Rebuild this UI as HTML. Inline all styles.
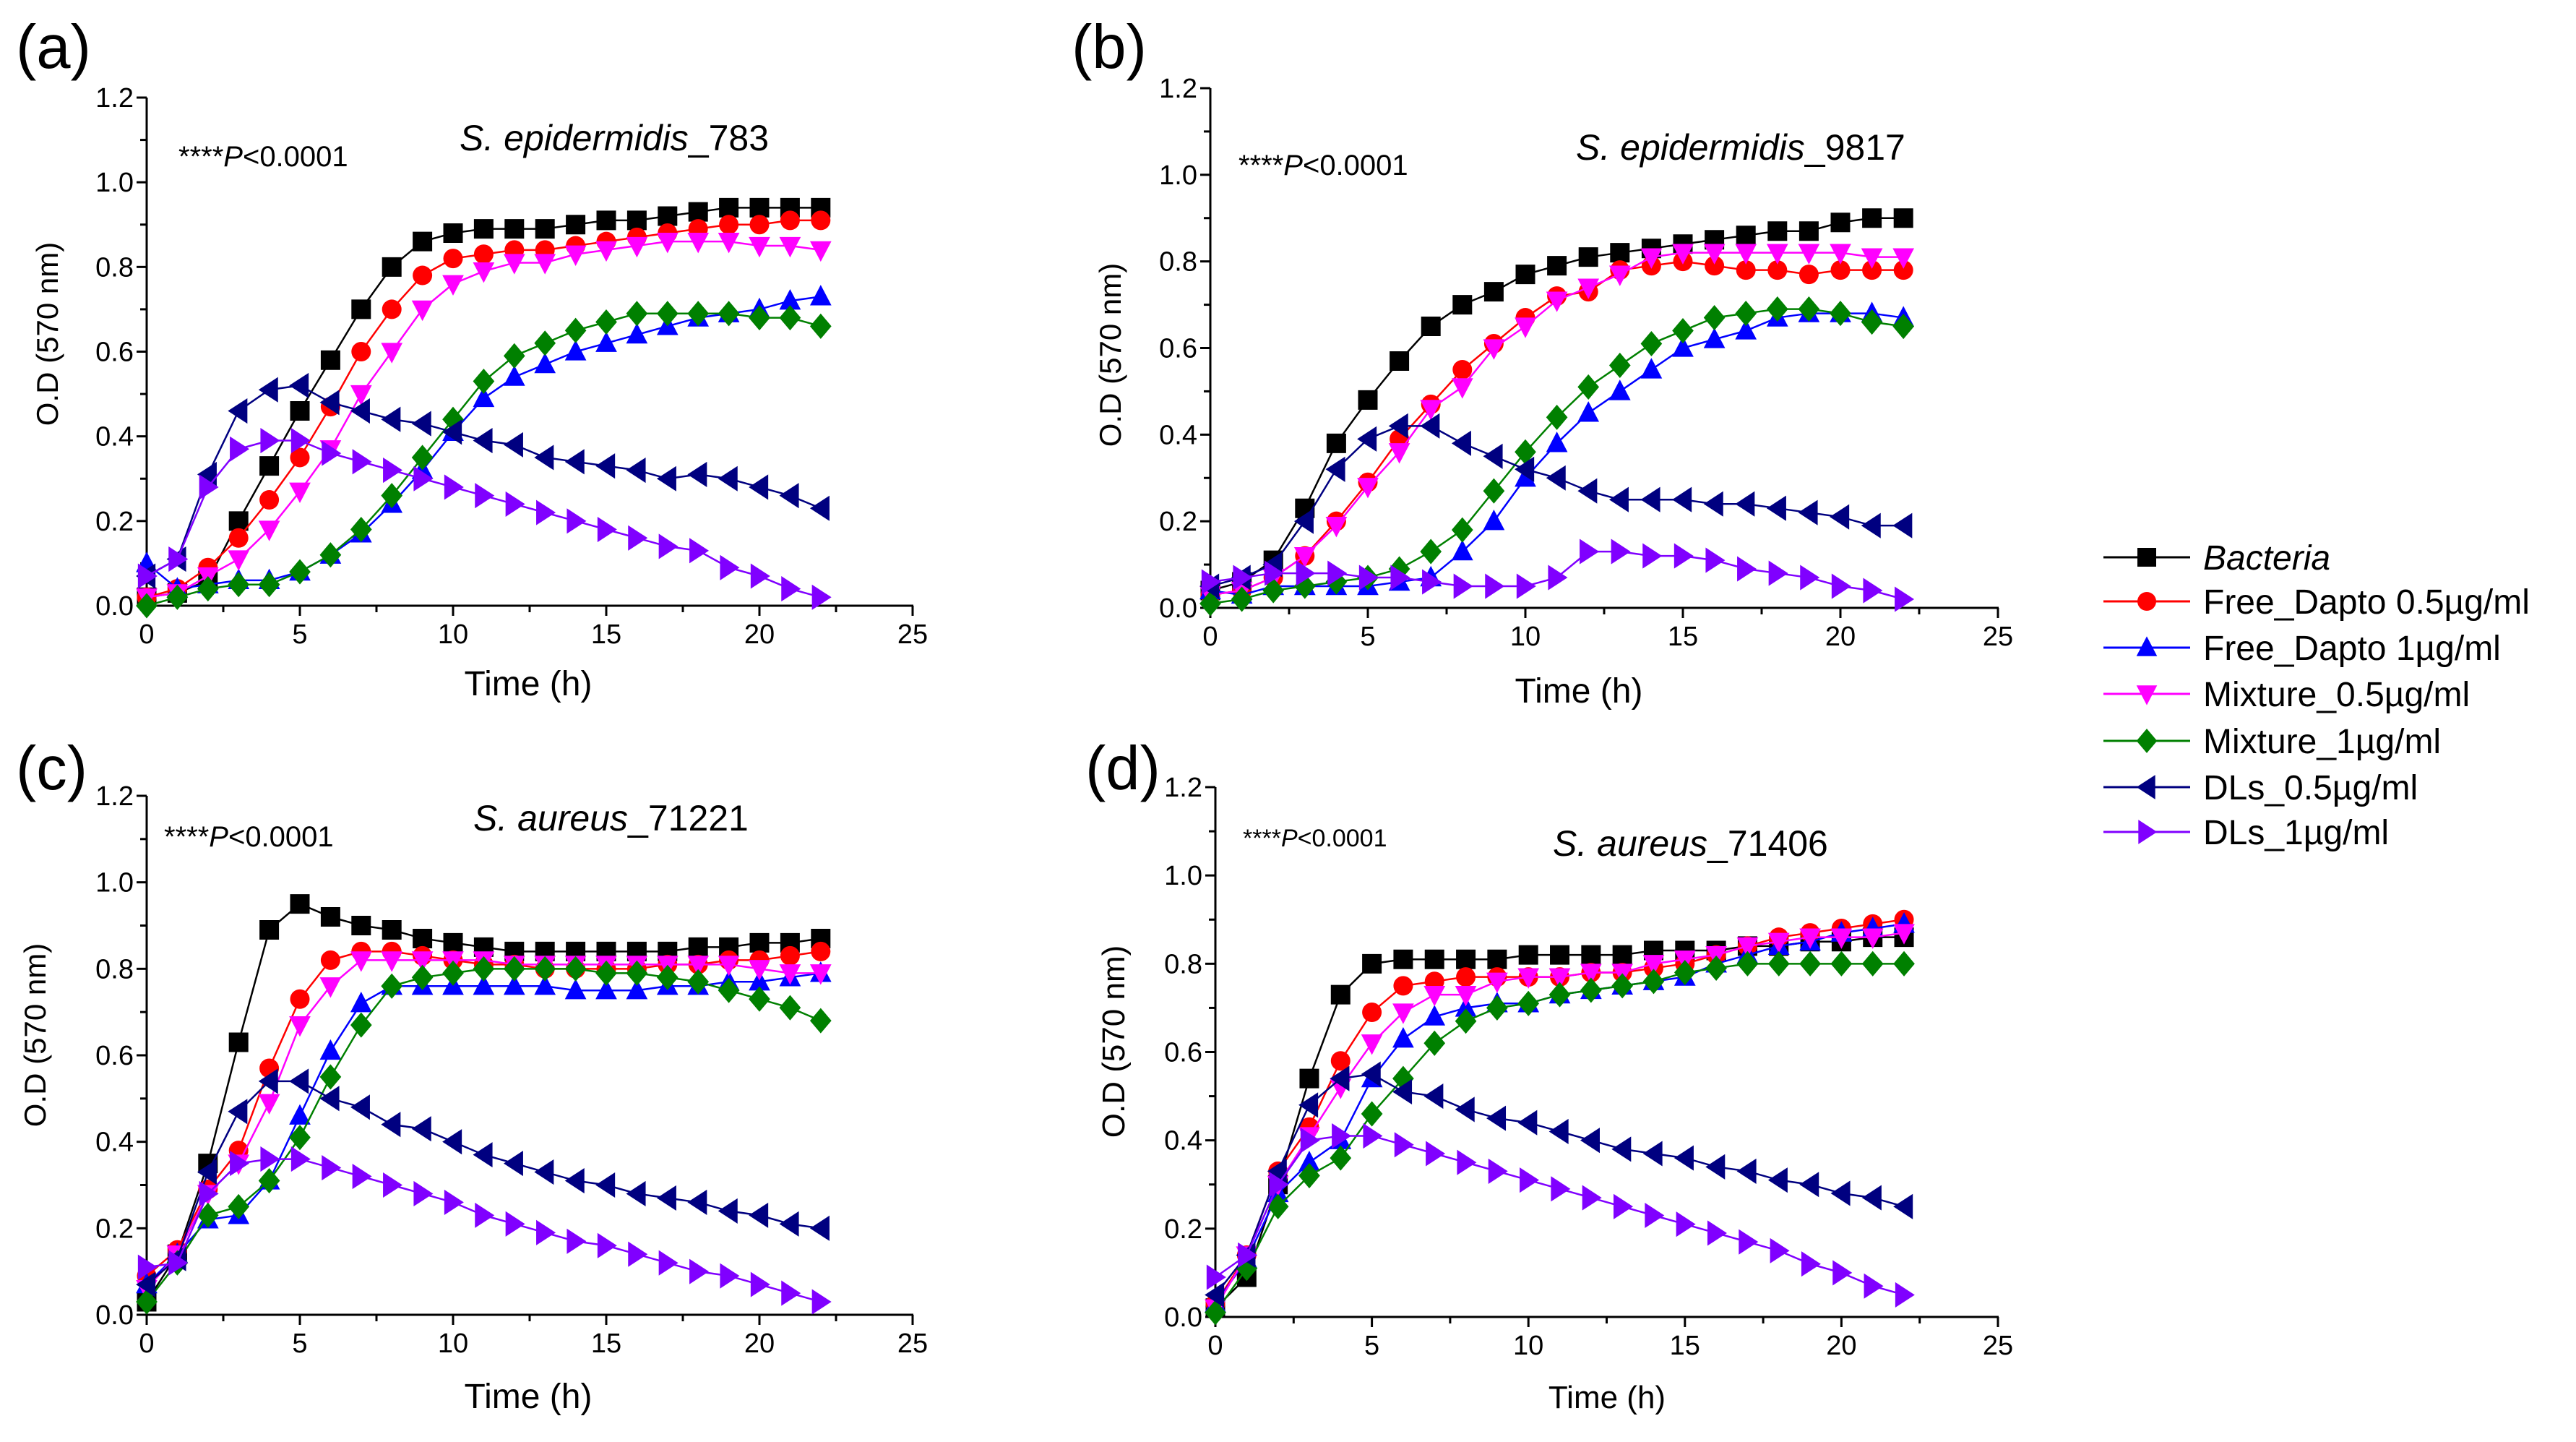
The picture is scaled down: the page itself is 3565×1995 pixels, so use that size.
<!DOCTYPE html>
<html><head><meta charset="utf-8">
<style>
html,body{margin:0;padding:0;background:#fff;}
svg{display:block;font-family:"Liberation Sans",Arial,sans-serif;}
</style></head>
<body>
<svg id="fig" width="3565" height="1995" viewBox="0 0 3565 1995" xmlns="http://www.w3.org/2000/svg"></svg>
<script>
const timePoints = [0,1,2,3,4,5,6,7,8,9,10,11,12,13,14,15,16,17,18,19,20,21,22];
const seriesNames = ["Bacteria","Free_Dapto 0.5\u00b5g/ml","Free_Dapto 1\u00b5g/ml","Mixture_0.5\u00b5g/ml","Mixture_1\u00b5g/ml","DLs_0.5\u00b5g/ml","DLs_1\u00b5g/ml"];
const xTicks = [0,5,10,15,20,25];
const yTicks = [0.0,0.2,0.4,0.6,0.8,1.0,1.2];

// Panel (a) S. epidermidis_783
const aBacteria = [0.02,0.03,0.06,0.20,0.33,0.46,0.58,0.70,0.80,0.86,0.88,0.89,0.89,0.89,0.90,0.91,0.91,0.92,0.93,0.94,0.94,0.94,0.94];
const aFree05 = [0.02,0.04,0.09,0.16,0.25,0.35,0.47,0.60,0.70,0.78,0.82,0.83,0.84,0.84,0.85,0.86,0.87,0.88,0.89,0.90,0.90,0.91,0.91];
const aFree1 = [0.10,0.04,0.05,0.06,0.06,0.08,0.12,0.17,0.24,0.32,0.41,0.49,0.54,0.57,0.60,0.62,0.64,0.66,0.68,0.69,0.70,0.72,0.73];
const aMix05 = [0.02,0.03,0.07,0.11,0.18,0.27,0.37,0.50,0.60,0.70,0.76,0.79,0.81,0.81,0.83,0.84,0.85,0.86,0.86,0.86,0.85,0.85,0.84];
const aMix1 = [0.00,0.02,0.04,0.05,0.05,0.08,0.12,0.18,0.26,0.35,0.44,0.53,0.59,0.62,0.65,0.67,0.69,0.69,0.69,0.69,0.68,0.68,0.66];
const aDL05 = [0.07,0.11,0.31,0.46,0.51,0.52,0.48,0.46,0.44,0.43,0.41,0.39,0.38,0.35,0.34,0.33,0.32,0.30,0.31,0.30,0.28,0.26,0.23];
const aDL1 = [0.07,0.11,0.28,0.37,0.39,0.39,0.36,0.34,0.32,0.30,0.28,0.26,0.24,0.22,0.20,0.18,0.16,0.14,0.13,0.09,0.07,0.04,0.02];

// Panel (b) S. epidermidis_9817
const bBacteria = [0.04,0.06,0.11,0.23,0.38,0.48,0.57,0.65,0.70,0.73,0.77,0.79,0.81,0.82,0.83,0.84,0.85,0.86,0.87,0.87,0.89,0.90,0.90];
const bFree05 = [0.03,0.04,0.07,0.12,0.20,0.29,0.39,0.47,0.55,0.61,0.67,0.72,0.73,0.78,0.79,0.80,0.79,0.78,0.78,0.77,0.78,0.78,0.78];
const bFree1 = [0.04,0.03,0.05,0.05,0.05,0.05,0.06,0.07,0.13,0.20,0.30,0.38,0.45,0.50,0.55,0.60,0.62,0.64,0.67,0.68,0.68,0.68,0.67];
const bMix05 = [0.03,0.04,0.07,0.12,0.19,0.28,0.36,0.46,0.51,0.60,0.65,0.71,0.74,0.77,0.81,0.82,0.82,0.82,0.82,0.82,0.82,0.81,0.81];
const bMix1 = [0.01,0.02,0.04,0.05,0.06,0.07,0.09,0.13,0.18,0.27,0.36,0.44,0.51,0.56,0.61,0.64,0.67,0.68,0.69,0.69,0.68,0.66,0.65];
const bDL05 = [0.05,0.07,0.10,0.20,0.32,0.39,0.42,0.42,0.38,0.35,0.32,0.30,0.27,0.25,0.25,0.25,0.24,0.24,0.23,0.22,0.21,0.19,0.19];
const bDL1 = [0.06,0.07,0.08,0.08,0.08,0.07,0.07,0.06,0.05,0.05,0.05,0.07,0.13,0.13,0.12,0.12,0.11,0.09,0.08,0.07,0.05,0.04,0.02];

// Panel (c) S. aureus_71221
const cBacteria = [0.03,0.14,0.35,0.63,0.89,0.95,0.92,0.90,0.89,0.87,0.86,0.85,0.84,0.84,0.84,0.84,0.84,0.84,0.85,0.85,0.86,0.86,0.87];
const cFree05 = [0.09,0.15,0.29,0.38,0.57,0.73,0.82,0.84,0.84,0.83,0.82,0.81,0.81,0.80,0.80,0.80,0.80,0.81,0.81,0.82,0.82,0.83,0.84];
const cFree1 = [0.07,0.14,0.22,0.23,0.31,0.46,0.61,0.72,0.76,0.76,0.76,0.76,0.76,0.76,0.75,0.75,0.75,0.76,0.76,0.77,0.77,0.78,0.79];
const cMix05 = [0.06,0.14,0.28,0.35,0.49,0.67,0.76,0.82,0.82,0.82,0.82,0.82,0.81,0.81,0.81,0.81,0.81,0.81,0.81,0.81,0.80,0.79,0.79];
const cMix1 = [0.03,0.12,0.23,0.25,0.31,0.41,0.55,0.67,0.76,0.78,0.79,0.80,0.80,0.80,0.80,0.79,0.79,0.78,0.77,0.75,0.73,0.71,0.68];
const cDL05 = [0.07,0.13,0.33,0.47,0.54,0.54,0.50,0.48,0.44,0.43,0.40,0.37,0.35,0.33,0.31,0.30,0.28,0.27,0.26,0.24,0.23,0.21,0.20];
const cDL1 = [0.11,0.12,0.28,0.35,0.36,0.36,0.34,0.32,0.30,0.28,0.26,0.23,0.21,0.19,0.17,0.16,0.14,0.12,0.10,0.09,0.07,0.05,0.03];

// Panel (d) S. aureus_71406
const dBacteria = [0.02,0.09,0.30,0.54,0.73,0.80,0.81,0.81,0.81,0.81,0.82,0.82,0.82,0.82,0.83,0.83,0.83,0.84,0.84,0.85,0.85,0.86,0.86];
const dFree05 = [0.03,0.14,0.33,0.43,0.58,0.69,0.75,0.76,0.77,0.77,0.77,0.77,0.78,0.78,0.79,0.80,0.82,0.84,0.86,0.87,0.88,0.89,0.90];
const dFree1 = [0.03,0.13,0.28,0.35,0.40,0.54,0.63,0.68,0.70,0.71,0.71,0.73,0.74,0.75,0.76,0.77,0.80,0.82,0.84,0.85,0.87,0.88,0.89];
const dMix05 = [0.02,0.14,0.30,0.41,0.52,0.62,0.69,0.73,0.73,0.76,0.77,0.77,0.78,0.78,0.80,0.81,0.82,0.84,0.85,0.86,0.86,0.86,0.87];
const dMix1 = [0.01,0.11,0.25,0.32,0.36,0.46,0.54,0.62,0.67,0.70,0.71,0.73,0.74,0.75,0.76,0.78,0.79,0.80,0.80,0.80,0.80,0.80,0.80];
const dDL05 = [0.05,0.14,0.33,0.48,0.54,0.55,0.51,0.50,0.47,0.45,0.44,0.42,0.40,0.38,0.37,0.36,0.34,0.33,0.31,0.30,0.28,0.27,0.25];
const dDL1 = [0.09,0.14,0.30,0.40,0.41,0.41,0.39,0.37,0.35,0.33,0.31,0.29,0.27,0.25,0.23,0.21,0.19,0.17,0.15,0.12,0.10,0.07,0.05];

const NS = "http://www.w3.org/2000/svg";
const svg = document.getElementById('fig');
const colors = ["#000000","#ff0000","#0000ff","#ff00ff","#008000","#000080","#8000ff"];
const shapes = ["square","circle","up","down","diamond","left","right"];
const slug = ["bacteria","free-dapto-05","free-dapto-1","mixture-05","mixture-1","dls-05","dls-1"];

function mk(tag, attrs, parent){
  const e = document.createElementNS(NS, tag);
  for (const k in attrs) e.setAttribute(k, attrs[k]);
  (parent||svg).appendChild(e);
  return e;
}
function markerPath(shape, x, y, r){
  switch(shape){
    case "square": return `M${x-r},${y-r}h${2*r}v${2*r}h${-2*r}z`;
    case "circle": return `M${x-r},${y}a${r},${r} 0 1,0 ${2*r},0a${r},${r} 0 1,0 ${-2*r},0z`;
    case "up": return `M${x},${y-r*1.2}L${x+r*1.1},${y+r*0.9}L${x-r*1.1},${y+r*0.9}z`;
    case "down": return `M${x},${y+r*1.2}L${x+r*1.1},${y-r*0.9}L${x-r*1.1},${y-r*0.9}z`;
    case "diamond": return `M${x},${y-r*1.3}L${x+r*1.1},${y}L${x},${y+r*1.3}L${x-r*1.1},${y}z`;
    case "left": return `M${x-r*1.1},${y}L${x+r*0.9},${y-r*1.3}L${x+r*0.9},${y+r*1.3}z`;
    case "right": return `M${x+r*1.1},${y}L${x-r*0.9},${y-r*1.3}L${x-r*0.9},${y+r*1.3}z`;
  }
}

function drawPanel(cfg, seriesList){
  const g = mk('g', {});
  
  
  const sx = v => cfg.x0 + (v - 0) / 25 * (cfg.x1 - cfg.x0);
  const sy = v => cfg.y0 - v / 1.2 * (cfg.y0 - cfg.y1);

  const lab = mk('text', {x: cfg.lx, y: cfg.ly, 'font-size': 85, fill: '#000'}, g);
  lab.textContent = '(' + cfg.id + ')';
  
  

  const ax = mk('g', {stroke: '#000', 'stroke-width': 3, fill: 'none'}, g);
  
  
  mk('line', {x1: cfg.x0, y1: cfg.y0, x2: cfg.x1 + 1, y2: cfg.y0}, ax);
  mk('line', {x1: cfg.x0, y1: cfg.y0 + 1, x2: cfg.x0, y2: cfg.y1}, ax);
  for (let v = 0; v <= 25.001; v += 2.5){
    const major = Math.abs(v % 5) < 1e-6;
    mk('line', {x1: sx(v), y1: cfg.y0, x2: sx(v), y2: cfg.y0 + (major ? 14 : 9)}, ax);
  }
  for (let v = 0; v <= 1.2001; v += 0.1){
    const major = Math.round(v * 10) % 2 === 0;
    mk('line', {x1: cfg.x0, y1: sy(v), x2: cfg.x0 - (major ? 14 : 9), y2: sy(v)}, ax);
  }
  xTicks.forEach(v => {
    const t = mk('text', {x: sx(v), y: cfg.y0 + 52, 'font-size': 38, 'text-anchor': 'middle', fill: '#000'}, g);
    t.textContent = String(v);
    
    
  });
  yTicks.forEach(v => {
    const t = mk('text', {x: cfg.x0 - 18, y: sy(v) + 13, 'font-size': 38, 'text-anchor': 'end', fill: '#000'}, g);
    t.textContent = v.toFixed(1);
    
    
  });
  const xt = mk('text', {x: cfg.xtx, y: cfg.xty + 16, 'font-size': cfg.xtf, 'text-anchor': 'middle', fill: '#000'}, g);
  xt.textContent = 'Time (h)';
  
  
  const yt = mk('text', {x: 0, y: 0, 'font-size': cfg.ytf, 'text-anchor': 'middle', fill: '#000', transform: `translate(${cfg.ytx + 15},${cfg.yty}) rotate(-90)`}, g);
  yt.textContent = 'O.D (570 nm)';
  
  

  const tt = mk('text', {x: cfg.tx, y: cfg.ty + 17, 'font-size': 50, fill: '#000'}, g);
  
  
  const ts1 = mk('tspan', {'font-style': 'italic'}, tt); ts1.textContent = cfg.titleItalic;
  const ts2 = mk('tspan', {}, tt); ts2.textContent = cfg.titleRest;

  const pv = mk('text', {x: cfg.px, y: cfg.py + 13, 'font-size': cfg.pf, fill: '#000'}, g);
  
  
  const p1 = mk('tspan', {}, pv); p1.textContent = '****';
  const p2 = mk('tspan', {'font-style': 'italic'}, pv); p2.textContent = 'P';
  const p3 = mk('tspan', {}, pv); p3.textContent = '<0.0001';

  seriesList.forEach((vals, si) => {
    const sg = mk('g', {}, g);
    
    
    const pts = vals.map((v, i) => sx(timePoints[i]) + ',' + sy(v)).join(' ');
    const line = mk('polyline', {points: pts, fill: 'none', stroke: colors[si], 'stroke-width': 2.5}, sg);
    
    
    vals.forEach((v, i) => {
      const m = mk('path', {d: markerPath(shapes[si], sx(timePoints[i]), sy(v), 13.5), fill: colors[si]}, sg);
      
      
    });
  });
}

drawPanel({id:'a', x0:203, x1:1263, y0:838, y1:135, lx:22, ly:94, xtx:731, xty:946, xtf:48, ytx:65, yty:462, ytf:42,
  tx:636, ty:191, titleItalic:'S. epidermidis', titleRest:'_783', px:247, py:217, pf:40},
  [aBacteria,aFree05,aFree1,aMix05,aMix1,aDL05,aDL1]);
drawPanel({id:'b', x0:1675, x1:2765, y0:841, y1:122, lx:1483, ly:94, xtx:2185, xty:956, xtf:48, ytx:1536, yty:491, ytf:42,
  tx:2181, ty:204, titleItalic:'S. epidermidis', titleRest:'_9817', px:1714, py:229, pf:40},
  [bBacteria,bFree05,bFree1,bMix05,bMix1,bDL05,bDL1]);
drawPanel({id:'c', x0:203, x1:1263, y0:1819, y1:1101, lx:22, ly:1092, xtx:731, xty:1932, xtf:48, ytx:48, yty:1432, ytf:42,
  tx:655, ty:1132, titleItalic:'S. aureus', titleRest:'_71221', px:227, py:1158, pf:40},
  [cBacteria,cFree05,cFree1,cMix05,cMix1,cDL05,cDL1]);
drawPanel({id:'d', x0:1682, x1:2765, y0:1822, y1:1089, lx:1502, ly:1092, xtx:2224, xty:1932, xtf:44, ytx:1541, yty:1441, ytf:44,
  tx:2149, ty:1167, titleItalic:'S. aureus', titleRest:'_71406', px:1720, py:1158, pf:34},
  [dBacteria,dFree05,dFree1,dMix05,dMix1,dDL05,dDL1]);

const lg = mk('g', {});


const legendY = [771, 832, 896, 960, 1025, 1089, 1151];
seriesNames.forEach((name, i) => {
  const eg = mk('g', {}, lg);
  
  
  mk('line', {x1: 2911, y1: legendY[i], x2: 3031, y2: legendY[i], stroke: colors[i], 'stroke-width': 3}, eg);
  mk('path', {d: markerPath(shapes[i], 2971, legendY[i], 13), fill: colors[i]}, eg);
  const t = mk('text', {x: 3049, y: legendY[i] + 17, 'font-size': 48, fill: '#000'}, eg);
  if (i === 0) t.setAttribute('font-style', 'italic');
  t.textContent = name;
});
</script>
</body></html>
